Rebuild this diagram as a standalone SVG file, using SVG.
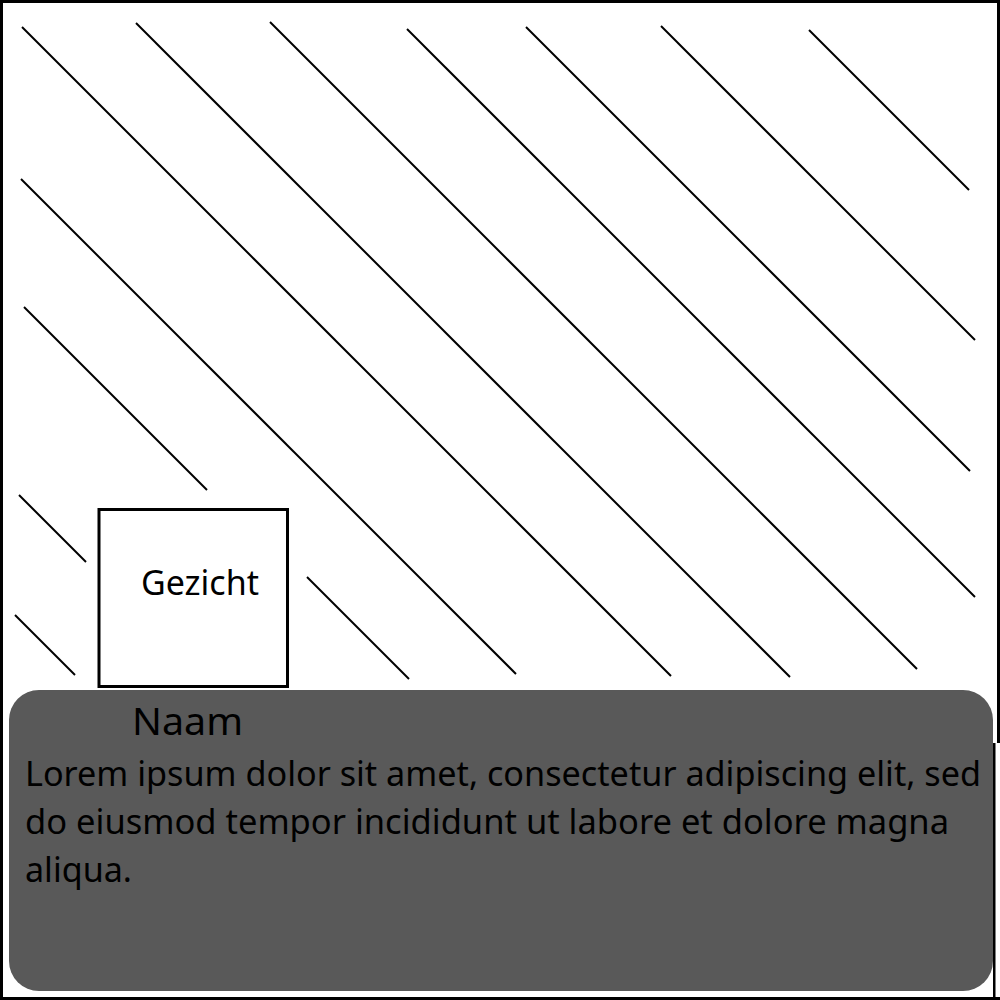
<svg xmlns="http://www.w3.org/2000/svg" width="1000" height="1000" viewBox="0 0 1000 1000">
  <style>
    .hatch line { stroke: #000; stroke-width: 2; stroke-linecap: butt; }
    .frame { fill: #000; }
    .txt { font-family: "Noto Sans", "Open Sans", "Liberation Sans", sans-serif; fill: #000; }
  </style>
  <rect x="0" y="0" width="1000" height="1000" fill="#fff"/>
  <g id="frame">
    <rect class="frame" x="0" y="0" width="1000" height="3"/>
    <rect class="frame" x="0" y="0" width="3" height="1000"/>
    <rect class="frame" x="997" y="0" width="3" height="743"/>
    <rect class="frame" x="993" y="743" width="2.5" height="257"/>
    <rect class="frame" x="0" y="997" width="1000" height="3"/>
  </g>
  <g id="hatching" class="hatch">
    <line x1="22" y1="27" x2="671" y2="676"/>
    <line x1="136" y1="23" x2="790" y2="677"/>
    <line x1="270" y1="22" x2="917" y2="669"/>
    <line x1="407" y1="29" x2="975" y2="597"/>
    <line x1="526" y1="27" x2="970" y2="471"/>
    <line x1="661" y1="26" x2="975" y2="340"/>
    <line x1="809" y1="30" x2="969" y2="190"/>
    <line x1="21" y1="179" x2="516" y2="674"/>
    <line x1="24" y1="307" x2="207" y2="490"/>
    <line x1="307" y1="577" x2="409" y2="679"/>
    <line x1="19" y1="495" x2="86" y2="562"/>
    <line x1="15" y1="615" x2="75" y2="675"/>
  </g>
  <g id="gezicht">
    <rect x="99" y="509.5" width="188.5" height="177" fill="#fff" stroke="#000" stroke-width="3"/>
    <text class="txt" x="141" y="595" font-size="34" textLength="118" lengthAdjust="spacingAndGlyphs">Gezicht</text>
  </g>
  <g id="card">
    <rect x="9" y="690" width="984" height="301" rx="30" ry="30" fill="#595959"/>
    <text class="txt" x="132" y="735" font-size="38" textLength="111" lengthAdjust="spacingAndGlyphs">Naam</text>
    <text class="txt" x="25" y="786" font-size="34" textLength="956" lengthAdjust="spacingAndGlyphs">Lorem ipsum dolor sit amet, consectetur adipiscing elit, sed</text>
    <text class="txt" x="25" y="834" font-size="34" textLength="924" lengthAdjust="spacingAndGlyphs">do eiusmod tempor incididunt ut labore et dolore magna</text>
    <text class="txt" x="25" y="882" font-size="34" textLength="107" lengthAdjust="spacingAndGlyphs">aliqua.</text>
  </g>
</svg>
